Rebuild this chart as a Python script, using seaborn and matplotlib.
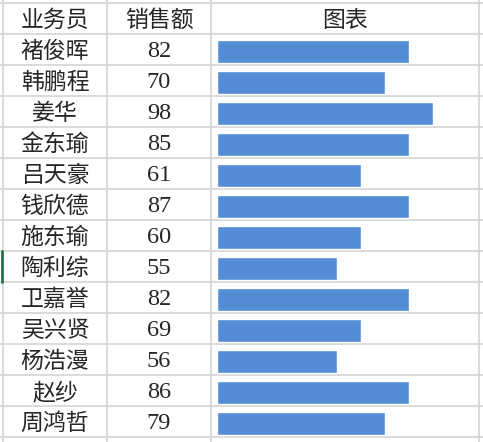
import numpy as np
import matplotlib.pyplot as plt
import seaborn as sns
import pandas as pd

# dane z tabeli
names = ['褚俊晖', '韩鹏程', '姜华', '金东瑜', '吕天豪', '钱欣德', '施东瑜',
         '陶利综', '卫嘉誉', '吴兴贤', '杨浩漫', '赵纱', '周鸿哲']
sales = [82, 70, 98, 85, 61, 87, 60, 55, 82, 69, 56, 86, 79]
blocks = [8, 7, 9, 8, 6, 8, 6, 5, 8, 6, 5, 8, 7]   # długość paska (w blokach)
headers = ['业务员', '销售额', '图表']

df = pd.DataFrame({'name': names, 'sales': sales, 'blocks': blocks})

sns.set_theme(style='white')
plt.rcParams['font.family'] = ['Noto Sans CJK SC', 'DejaVu Sans']

W, H = 483, 442
fig = plt.figure(figsize=(W / 100, H / 100), dpi=100)
ax = fig.add_axes([0, 0, 1, 1])
ax.set_xlim(0, W)
ax.set_ylim(H, 0)
ax.axis('off')

top, rowh = 3, 31
cols = [3, 107, 211, 479]
nrows = len(names) + 1
grid = '#d4d4d4'

# siatka
for i in range(nrows + 1):
    ax.plot([0, W], [top + i * rowh] * 2, color=grid, lw=1.2)
for x in cols:
    ax.plot([x, x], [0, H], color=grid, lw=1.2)
# zielony znacznik przy wierszu 陶利综
r = names.index('陶利综') + 1
ax.plot([1.5, 1.5], [top + r * rowh, top + (r + 1) * rowh], color='#217346', lw=2)

centers = [(cols[i] + cols[i + 1]) / 2 for i in range(3)]
for c, h in zip(centers, headers):
    ax.text(c, top + rowh / 2 + 2, h, ha='center', va='center', fontsize=16.5)
for i, row in df.iterrows():
    y = top + (i + 1) * rowh + rowh / 2 + 2
    ax.text(centers[0], y, row['name'], ha='center', va='center', fontsize=16.5)
    ax.text(centers[1], y, str(row['sales']), ha='center', va='center',
            fontsize=17.5, family=['Liberation Serif'])

# paski
unit = 24
bx0 = 217
by0 = top + rowh + 2
bax = fig.add_axes([bx0 / W, 1 - (by0 + len(names) * rowh) / H,
                    (cols[3] - bx0) / W, len(names) * rowh / H])
sns.barplot(data=df, x='blocks', y='name', orient='h', color='#548dd6',
            saturation=1, width=23.5 / rowh, ax=bax)
bax.set_xlim(0, (cols[3] - bx0) / unit)
bax.axis('off')
bax.patch.set_alpha(0)

plt.savefig('out.png', dpi=100)
plt.close()
